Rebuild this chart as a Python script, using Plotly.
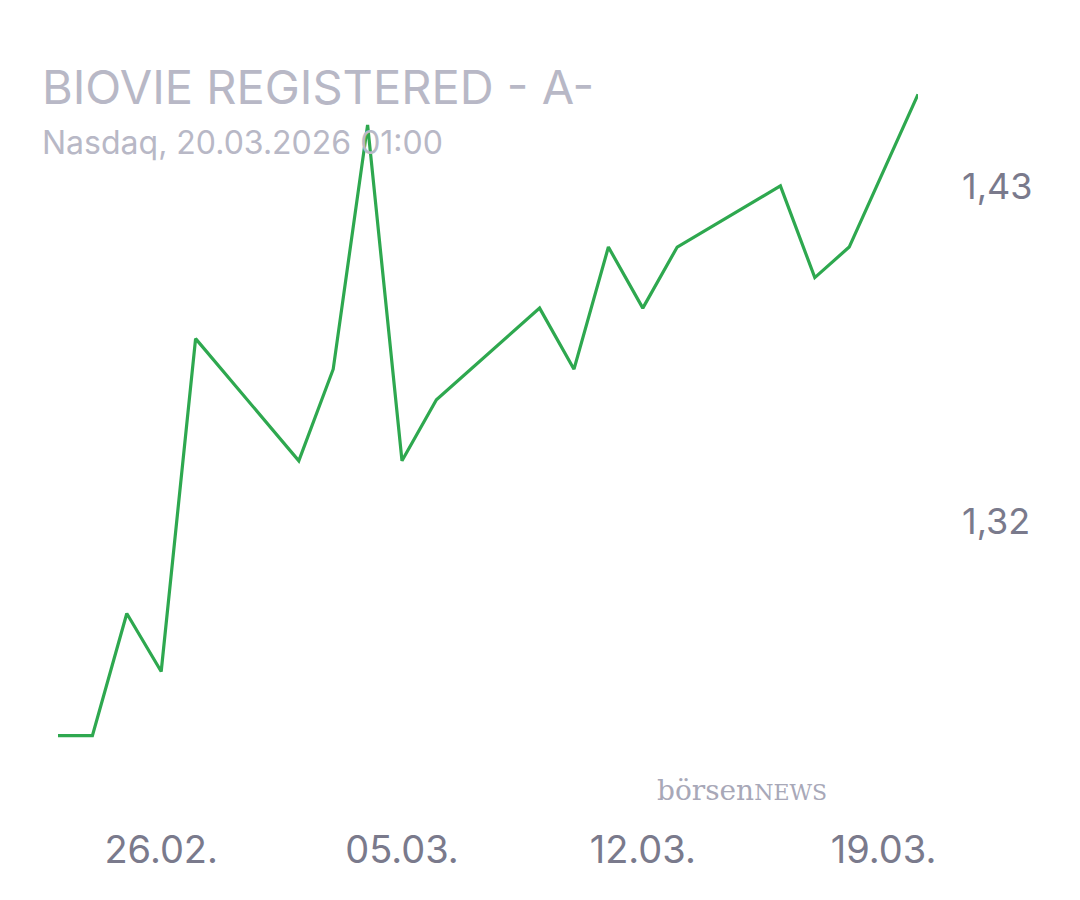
import plotly.graph_objects as go

dates = ["2026-02-23", "2026-02-24", "2026-02-25", "2026-02-26", "2026-02-27",
         "2026-03-02", "2026-03-03", "2026-03-04", "2026-03-05", "2026-03-06",
         "2026-03-09", "2026-03-10", "2026-03-11", "2026-03-12", "2026-03-13",
         "2026-03-16", "2026-03-17", "2026-03-18", "2026-03-20"]
prices = [1.250, 1.250, 1.290, 1.271, 1.380,
          1.340, 1.370, 1.450, 1.340, 1.360,
          1.390, 1.370, 1.410, 1.390, 1.410,
          1.430, 1.400, 1.410, 1.460]
x_ticks = ["2026-02-26", "2026-03-05", "2026-03-12", "2026-03-19"]
x_labels = ["26.02.", "05.03.", "12.03.", "19.03."]
y_ticks = [1.32, 1.43]

L, R, T, B = 50, 170, 72, 78
fig = go.Figure()
fig.add_trace(go.Scatter(x=dates, y=prices, mode='lines',
                         line=dict(color='#2ea84f', width=3.2)))

fig.update_layout(
    width=1080, height=900,
    paper_bgcolor='white', plot_bgcolor='white',
    margin=dict(l=L, r=R, t=T, b=B),
    showlegend=False,
    separators=',.',
    font=dict(family='Inter, Roboto, sans-serif', color='#7a7a8c'),
    xaxis=dict(range=["2026-02-23", "2026-03-20"], tickvals=x_ticks, ticktext=x_labels,
               showgrid=False, zeroline=False, showline=False, ticklabelstandoff=-6,
               tickfont=dict(size=38, color='#7a7a8c')),
    yaxis=dict(range=[1.2191, 1.4647], side='right', tickvals=y_ticks, tickformat='.2f',
               showgrid=False, zeroline=False, showline=False, ticklabelstandoff=43,
               tickfont=dict(size=36, color='#7a7a8c')),
    annotations=[
        dict(text='BIOVIE REGISTERED - A-', x=32, y=79, xref='paper', yref='paper',
             showarrow=False, xanchor='left', yanchor='middle',
             font=dict(size=47, color='#b8b8c6')),
        dict(text='Nasdaq, 20.03.2026 01:00', x=32, y=135, xref='paper', yref='paper',
             showarrow=False, xanchor='left', yanchor='middle',
             font=dict(size=32, color='#b8b8c6')),
        dict(text='börsen<span style="font-size:22px">NEWS</span>', x=647, y=782,
             xref='paper', yref='paper', showarrow=False, xanchor='left', yanchor='middle',
             font=dict(family='DejaVu Serif, serif', size=28, color='#a8a8b8')),
    ],
)
# position annotations in pixels
for a in fig.layout.annotations:
    a.x = (a.x - L) / (1080 - L - R)
    a.y = 1 - (a.y - T) / (900 - T - B)

fig.write_html("out.html")
